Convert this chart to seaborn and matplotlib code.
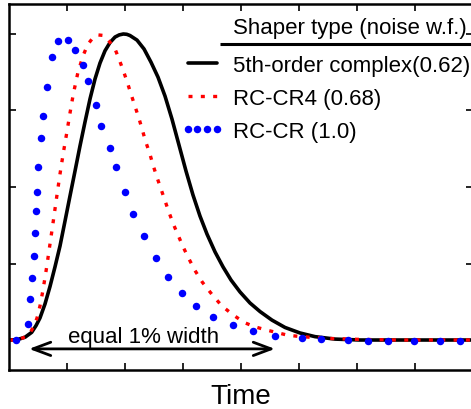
import matplotlib
matplotlib.use("Agg")
import matplotlib.pyplot as plt
import seaborn as sns

# ---- data ----
black_x = [0.000, 0.138, 0.276, 0.391, 0.466, 0.534, 0.621, 0.707, 0.793, 0.879, 0.966, 1.052,
           1.138, 1.224, 1.310, 1.397, 1.483, 1.569, 1.655, 1.741, 1.828, 1.900, 1.971, 2.030,
           2.086, 2.207, 2.328, 2.448, 2.569, 2.690, 2.810, 2.931, 3.052, 3.172, 3.293, 3.414,
           3.552, 3.690, 3.828, 3.983, 4.155, 4.328, 4.534, 4.759, 5.017, 5.276, 5.621, 6.052,
           7.966]
black_y = [0.000, 0.001, 0.009, 0.025, 0.047, 0.072, 0.118, 0.175, 0.239, 0.307, 0.389, 0.471,
           0.552, 0.634, 0.712, 0.788, 0.853, 0.905, 0.945, 0.972, 0.990, 0.997, 1.000, 0.999,
           0.995, 0.980, 0.951, 0.908, 0.859, 0.797, 0.722, 0.637, 0.552, 0.474, 0.405, 0.346,
           0.288, 0.239, 0.196, 0.157, 0.121, 0.093, 0.065, 0.041, 0.023, 0.011, 0.003, 0.000,
           0.000]

red_x = [0.000, 0.103, 0.190, 0.276, 0.362, 0.431, 0.483, 0.534, 0.586, 0.650, 0.707, 0.764,
         0.822, 0.879, 0.936, 0.995, 1.052, 1.109, 1.190, 1.281, 1.362, 1.453, 1.534, 1.638,
         1.724, 1.828, 1.897, 1.971, 2.040, 2.103, 2.172, 2.241, 2.298, 2.357, 2.426, 2.483,
         2.547, 2.616, 2.690, 2.759, 2.833, 2.919, 3.005, 3.103, 3.207, 3.333, 3.495, 3.667,
         3.857, 4.057, 4.241, 4.431, 4.798, 4.983, 5.190, 5.534, 6.052, 6.741, 7.966]
red_y = [0.000, 0.000, 0.003, 0.010, 0.023, 0.046, 0.072, 0.111, 0.163, 0.239, 0.314, 0.389,
         0.467, 0.542, 0.611, 0.676, 0.742, 0.804, 0.876, 0.931, 0.967, 0.989, 0.997, 0.995,
         0.977, 0.951, 0.918, 0.880, 0.842, 0.804, 0.764, 0.724, 0.687, 0.648, 0.610, 0.572,
         0.534, 0.496, 0.455, 0.417, 0.379, 0.341, 0.303, 0.265, 0.227, 0.189, 0.150, 0.112,
         0.083, 0.057, 0.043, 0.033, 0.016, 0.012, 0.009, 0.005, 0.002, 0.000, 0.000]

blue_x = [0.121, 0.322, 0.362, 0.391, 0.431, 0.448, 0.466, 0.483, 0.500, 0.552, 0.591, 0.650,
          0.741, 0.850, 1.017, 1.143, 1.271, 1.367, 1.495, 1.591, 1.736, 1.845, 1.995, 2.138,
          2.328, 2.529, 2.747, 2.988, 3.224, 3.522, 3.867, 4.202, 4.591, 5.047, 5.379, 5.840,
          6.195, 6.529, 6.988, 7.436, 7.781]
blue_y = [0.000, 0.052, 0.134, 0.204, 0.275, 0.351, 0.421, 0.483, 0.564, 0.661, 0.732, 0.828,
          0.924, 0.978, 0.981, 0.948, 0.900, 0.845, 0.769, 0.699, 0.627, 0.566, 0.483, 0.411,
          0.339, 0.268, 0.207, 0.155, 0.112, 0.076, 0.050, 0.028, 0.014, 0.008, 0.002, 0.000,
          -0.003, -0.003, -0.003, -0.003, -0.003]

labels = ["5th-order complex(0.62)", "RC-CR4 (0.68)", "RC-CR (1.0)"]
legend_title = "Shaper type (noise w.f.)"
x_label = "Time"
annot_text = "equal 1% width"
arrow_x = [0.345, 4.586]
arrow_y = -0.029
x_ticks = [1, 2, 3, 4, 5, 6, 7]
y_ticks = [0.0, 0.25, 0.5, 0.75, 1.0]

# ---- style ----
sns.set_theme(style="white")
plt.rcParams["font.family"] = ["Liberation Sans", "DejaVu Sans"]

W, H = 471, 410
fig = plt.figure(figsize=(W / 100, H / 100), dpi=100)
ax = fig.add_axes([9 / W, 39 / H, 464 / W, 366 / H])

sns.lineplot(x=black_x, y=black_y, ax=ax, color="black", lw=2.6, label=labels[0],
             errorbar=None, sort=False)
sns.lineplot(x=red_x, y=red_y, ax=ax, color="#ff0000", lw=2.4, label=labels[1],
             errorbar=None, sort=False, linestyle=(0, (1.2, 2.5)), dash_capstyle="butt")
sns.lineplot(x=blue_x, y=blue_y, ax=ax, color="#0000ff", label=labels[2], errorbar=None,
             sort=False, linestyle="none", marker="o", markersize=5.4, markeredgewidth=0)

ax.set_xlim(0, 8)
ax.set_ylim(-0.098, 1.098)
ax.set_xticks(x_ticks)
ax.set_yticks(y_ticks)
ax.set_xticklabels([])
ax.set_yticklabels([])
ax.tick_params(axis="both", direction="in", length=5, width=1.2, color="black",
               top=True, bottom=True, left=True, right=True)
for s in ax.spines.values():
    s.set_color("black")
    s.set_linewidth(1.8)

ax.set_xlabel(x_label, fontsize=20, labelpad=6, color="black")
ax.set_ylabel("")

# arrow and annotation
ax.annotate("", xy=(arrow_x[0], arrow_y), xytext=(arrow_x[1], arrow_y),
            arrowprops=dict(arrowstyle="<->,head_length=0.8,head_width=0.3",
                            mutation_scale=16, lw=2, color="black",
                            shrinkA=0, shrinkB=0))
ax.text(1.017, -0.006, annot_text, fontsize=16, ha="left", va="baseline", color="black")

# legend
leg = ax.legend(loc="upper left", bbox_to_anchor=(0.3707, 0.862), frameon=False,
                fontsize=16, borderpad=0, borderaxespad=0, handlelength=1.9,
                handletextpad=0.42, labelspacing=0.54, numpoints=4)
for t in leg.get_texts():
    t.set_color("black")
ax.text(0.483, 0.936, legend_title, transform=ax.transAxes, fontsize=16,
        ha="left", va="center", color="black")
ax.plot([0.455, 1.0], [0.891, 0.891], transform=ax.transAxes, color="black", lw=2.2,
        clip_on=False, solid_capstyle="butt")

fig.savefig("out.png", dpi=100)
